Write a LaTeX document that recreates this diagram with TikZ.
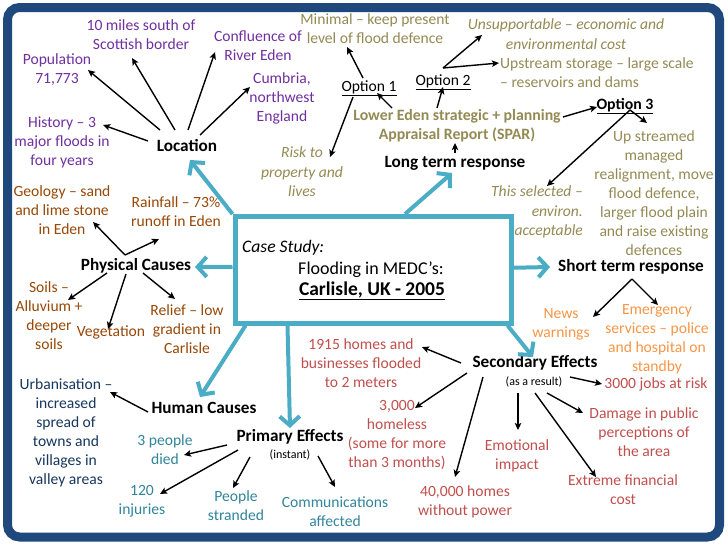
\documentclass[tikz,border=0pt]{standalone}
\usepackage{fontspec}
\setmainfont{Carlito}
\usetikzlibrary{arrows.meta,calc}
\definecolor{cframe}{RGB}{31,73,125}
\definecolor{cblue}{RGB}{75,172,198}
\definecolor{cpurp}{RGB}{112,48,160}
\definecolor{colive}{RGB}{148,138,84}
\definecolor{cbrown}{RGB}{152,72,7}
\definecolor{corange}{RGB}{247,150,70}
\definecolor{cnavy}{RGB}{23,55,94}
\definecolor{cteal}{RGB}{49,133,155}
\definecolor{cred}{RGB}{192,80,77}
\tikzset{
  base/.style={inner sep=0pt, align=center, font=\fontsize{15.6}{19}\selectfont},
  purp/.style={base, text=cpurp},
  olive/.style={base, text=colive},
  oliveit/.style={base, text=colive, font=\fontsize{15.6}{19.5}\selectfont\itshape},
  brown/.style={base, text=cbrown},
  orange/.style={base, text=corange},
  navy/.style={base, text=cnavy},
  teal/.style={base, text=cteal},
  rose/.style={base, text=cred},
  head/.style={inner sep=0pt, align=center, font=\fontsize{17.2}{20}\selectfont\bfseries},
  small/.style={inner sep=0pt, font=\fontsize{12}{14}\selectfont},
  arr/.style={draw=black, line width=1.4pt, -{Stealth[length=7pt,width=6.5pt,inset=1.5pt]}},
  barr/.style={draw=cblue, line width=4pt, -{Straight Barb[length=9pt,width=20pt]}},
}
\begin{document}
\begin{tikzpicture}[x=1pt,y=-1pt]
\useasboundingbox (0,0) rectangle (728,546);
\fill[white] (0,0) rectangle (728,546);
\draw[cframe, line width=9pt, rounded corners=12pt] (7.5,7.5) rectangle (719.5,537);

% centre box
\node[draw=cblue, line width=5pt, minimum width=276pt, minimum height=106.5pt, inner sep=0pt, fill=white] (box) at (373,269.75) {};
\node[anchor=west, inner sep=0pt, font=\fontsize{17.6}{20}\selectfont\itshape] (cs) at (242,248) {Case Study:};
\node[inner sep=0pt, font=\fontsize{18}{21}\selectfont] (fl) at (371,270) {Flooding in MEDC’s:};
\node[inner sep=0pt, font=\fontsize{19.5}{22}\selectfont\bfseries] (carl) at (372,291) {\underline{Carlisle, UK - 2005}};

% Location
\node[head] (loc) at (187,146) {Location};
\node[purp] (miles) at (141,35) {10 miles south of\\Scottish border};
\node[purp] (pop) at (57,70) {Population\\71,773};
\node[purp] (confl) at (258,46) {Confluence of\\River Eden};
\node[purp] (cumb) at (282,98) {Cumbria,\\northwest\\England};
\node[purp] (hist) at (62,142) {History – 3\\major floods in\\four years};
\draw[arr] ([shift={(-27,-16)}]loc.center) -- ([shift={(31,0)}]pop.center);
\draw[arr] ([shift={(-12,-16)}]loc.center) -- ([shift={(-9,23)}]miles.center);
\draw[arr] ([shift={(1,-16)}]loc.center) -- ([shift={(-43,6)}]confl.center);
\draw[arr] ([shift={(13,-11)}]loc.center) -- ([shift={(-32,-11)}]cumb.center);
\draw[arr] ([shift={(-39,-5)}]loc.center) -- ([shift={(41,-17)}]hist.center);

% Long term response
\node[head] (ltr) at (455,163) {Long term response};
\node[olive] (minimal) at (375,29) {Minimal – keep present\\level of flood defence};
\node[oliveit] (unsup) at (566,34) {Unsupportable – economic and\\environmental cost};
\node[olive, align=left, anchor=west] (upstream) at (500,73) {Upstream storage – large scale\\– reservoirs and dams};
\node[base] (opt1) at (369,88) {\underline{Option 1}};
\node[base] (opt2) at (443,82) {\underline{Option 2}};
\node[olive, font=\fontsize{15.8}{19}\selectfont\bfseries] (lower) at (457,126) {Lower Eden strategic + planning\\Appraisal Report (SPAR)};
\node[base, font=\fontsize{15.8}{19}\selectfont\bfseries] (opt3) at (625,106) {\underline{Option 3}};
\node[olive, font=\fontsize{15.6}{19}\selectfont] (upstr) at (654,193.5) {Up streamed\\managed\\realignment, move\\flood defence,\\larger flood plain\\and raise existing\\defences};
\node[oliveit] (risk) at (302,172) {Risk to\\property and\\lives};
\node[oliveit, align=right, anchor=east] (sel) at (583,212) {This selected –\\environ.\\acceptable};
\draw[arr] ([shift={(-6,-10)}]opt1.center) -- ([shift={(-28,18)}]minimal.center);
\draw[arr] ([shift={(-16,9)}]opt1.center) -- ([shift={(28,-15)}]risk.center);
\draw[arr] ([shift={(-65,-18)}]lower.center) -- ([shift={(8,5)}]opt1.center);
\draw[arr] ([shift={(-20,-18)}]lower.center) -- ([shift={(0,5)}]opt2.center);
\draw[arr] ([shift={(0,-10)}]ltr.center) -- ([shift={(-2,17)}]lower.center);
\draw[arr] ([shift={(0,-14)}]opt2.center) -- ([shift={(-84,1)}]unsup.center);
\draw[arr] ([shift={(0,-14)}]opt2.center) -- ([shift={(-1,-10)}]upstream.west);
\draw[arr] ([shift={(106,-9)}]lower.center) -- ([shift={(-28,1)}]opt3.center);
\draw[arr] ([shift={(5,4)}]opt3.center) -- ([shift={(-7,-70.5)}]upstr.center);
\draw[arr] ([shift={(5,4)}]opt3.center) -- ([shift={(-36,-26)}]sel.east);

% Physical causes
\node[head] (phys) at (136,266) {Physical Causes};
\node[brown] (geo) at (62,210) {Geology – sand\\and lime stone\\in Eden};
\node[brown] (rain) at (176,212) {Rainfall – 73\%\\runoff in Eden};
\node[brown] (soils) at (49,316) {Soils –\\Alluvium +\\deeper\\soils};
\node[brown] (veg) at (111,332) {Vegetation};
\node[brown] (relief) at (187,329) {Relief – low\\gradient in\\Carlisle};
\draw[arr] ([shift={(-11,-11)}]phys.center) -- ([shift={(31,12)}]geo.center);
\draw[arr] ([shift={(-11,-11)}]phys.center) -- ([shift={(-17,27)}]rain.center);
\draw[arr] ([shift={(-29,7)}]phys.center) -- ([shift={(19,-16)}]soils.center);
\draw[arr] ([shift={(-10,8)}]phys.center) -- ([shift={(-3,-3)}]veg.center);
\draw[arr] ([shift={(7,7)}]phys.center) -- ([shift={(-12,-30)}]relief.center);

% Short term response
\node[head] (str) at (631,267) {Short term response};
\node[orange] (news) at (561,324) {News\\warnings};
\node[orange] (emerg) at (657,339) {Emergency\\services – police\\and hospital on\\standby};
\draw[arr] ([shift={(1,12)}]str.center) -- ([shift={(32,-7)}]news.center);
\draw[arr] ([shift={(1,12)}]str.center) -- ([shift={(1,-34)}]emerg.center);

% Human causes
\node[head] (human) at (204,408) {Human Causes};
\node[navy] (urb) at (66,432.5) {Urbanisation –\\increased\\spread of\\towns and\\villages in\\valley areas};
\draw[arr] ([shift={(-56,4)}]human.center) -- ([shift={(44,-40.5)}]urb.center);

% Primary effects
\node[head] (prim) at (290,437) {Primary Effects};
\node[small] (inst) at (290,455) {(instant)};
\node[teal] (died) at (165,450) {3 people\\died};
\node[teal] (inj) at (142,501.5) {120\\injuries};
\node[teal] (strand) at (236,506) {People\\stranded};
\node[teal] (comm) at (335,511.5) {Communications\\affected};
\draw[arr] ([shift={(-63,8)}]prim.center) -- ([shift={(19,5)}]died.center);
\draw[arr] ([shift={(-52,13)}]prim.center) -- ([shift={(18,-7.5)}]inj.center);
\draw[arr] ([shift={(-40,20)}]prim.center) -- ([shift={(-3,-18)}]strand.center);
\draw[arr] ([shift={(28,19)}]prim.center) -- ([shift={(0,-24.5)}]comm.center);

% Secondary effects
\node[head] (sec) at (535,363) {Secondary Effects};
\node[small] (res) at (534,382) {(as a result)};
\node[rose] (h1915) at (361,363.5) {1915 homes and\\businesses flooded\\to 2 meters};
\node[rose] (homeless) at (397,435.5) {3,000\\homeless\\(some for more\\than 3 months)};
\node[rose] (power) at (465,502) {40,000 homes\\without power};
\node[rose] (emo) at (517,456) {Emotional\\impact};
\node[rose] (jobs) at (656,384) {3000 jobs at risk};
\node[rose] (damage) at (644,432.5) {Damage in public\\perceptions of\\the area};
\node[rose] (extreme) at (623,490) {Extreme financial\\cost};
\draw[arr] ([shift={(-74,0)}]sec.center) -- ([shift={(61,-16.5)}]h1915.center);
\draw[arr] ([shift={(-68,10)}]sec.center) -- ([shift={(18,-27.5)}]homeless.center);
\draw[arr] ([shift={(-52,14)}]sec.center) -- ([shift={(-10,-25)}]power.center);
\draw[arr] ([shift={(-17,30)}]sec.center) -- ([shift={(1,-26)}]emo.center);
\draw[arr] ([shift={(35,14)}]sec.center) -- ([shift={(-54,0)}]jobs.center);
\draw[arr] ([shift={(12,30)}]sec.center) -- ([shift={(-61,-19.5)}]damage.center);
\draw[arr] ([shift={(0,30)}]sec.center) -- ([shift={(-27,-13)}]extreme.center);

% blue arrows from the centre box
\draw[barr] (box.north west) -- ([shift={(3,14)}]loc.center);
\draw[barr] ([shift={(32,0)}]box.north) -- ([shift={(-3,10)}]ltr.center);
\draw[barr] ([shift={(0,-3)}]box.west) -- ([shift={(59,1)}]phys.center);
\draw[barr] ([shift={(0,-2)}]box.east) -- ([shift={(-81,0)}]str.center);
\draw[barr] ([shift={(13,0)}]box.south west) -- ([shift={(-4,-11)}]human.center);
\draw[barr] ([shift={(55,0)}]box.south west) -- ([shift={(0,-9)}]prim.center);
\draw[barr] ([shift={(-6,0)}]box.south east) -- ([shift={(-2,-6)}]sec.center);
\end{tikzpicture}
\end{document}
